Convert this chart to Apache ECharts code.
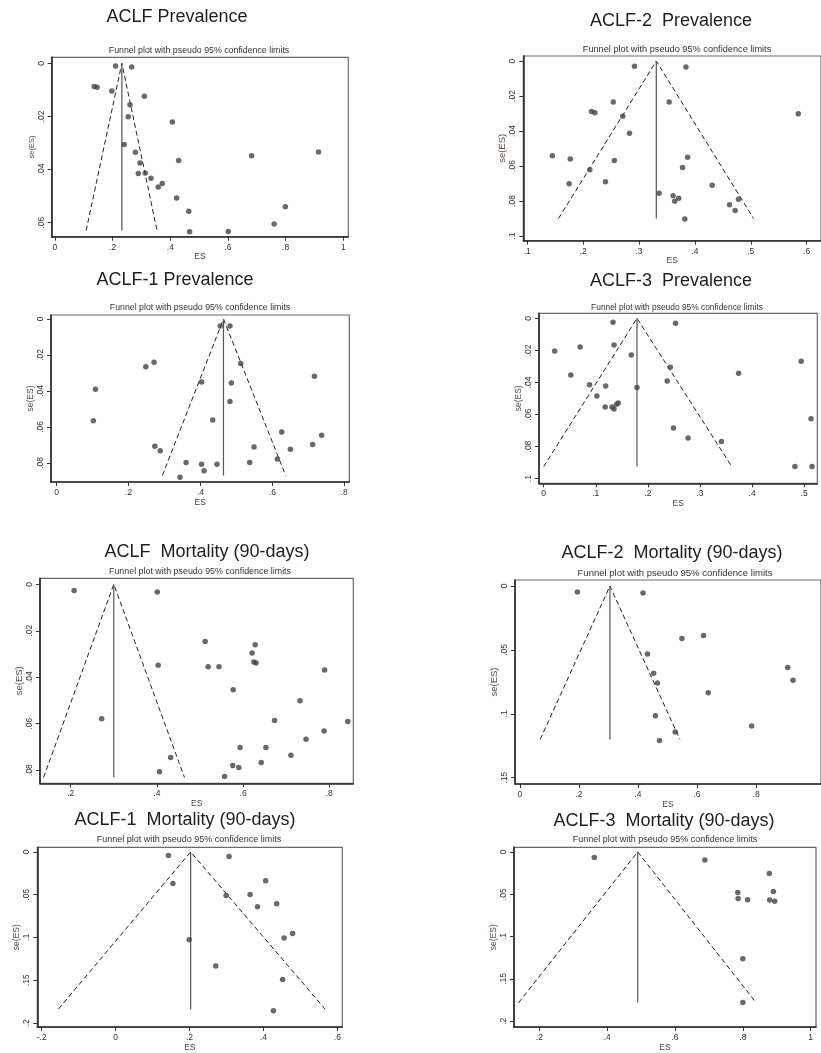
<!DOCTYPE html>
<html>
<head>
<meta charset="utf-8">
<script src="https://cdn.jsdelivr.net/npm/echarts@6/dist/echarts.min.js"></script>
<style>
html,body{margin:0;padding:0;background:#fff;}
#chart{width:821px;height:1053px;}
</style>
</head>
<body>
<div id="chart"></div>
<script>
// ---------- DATA (ES = effect size, SE = standard error) ----------
// Panel 1: ACLF Prevalence
const p1ES = [0.210,0.266,0.136,0.146,0.197,0.310,0.260,0.254,0.407,0.240,0.279,0.682,0.914,0.295,0.429,0.289,0.313,0.333,0.372,0.358,0.422,0.464,0.799,0.760,0.467,0.601];
const p1SE = [0.0010,0.0014,0.0087,0.0090,0.0104,0.0124,0.0156,0.0201,0.0221,0.0306,0.0335,0.0348,0.0334,0.0375,0.0366,0.0415,0.0413,0.0433,0.0453,0.0466,0.0507,0.0557,0.0540,0.0605,0.0634,0.0633];
const p1Funnel = [0.232, 0.063, 0.108, 0.354]; // pooled, max se, lower limit, upper limit
const p1XTicks = [0,0.2,0.4,0.6,0.8,1];
const p1YTicks = [0,0.02,0.04,0.06];

// Panel 2: ACLF-2 Prevalence
const p2ES = [0.292,0.384,0.254,0.354,0.215,0.221,0.271,0.585,0.283,0.145,0.177,0.256,0.387,0.378,0.212,0.175,0.240,0.431,0.336,0.361,0.364,0.371,0.478,0.462,0.472,0.382];
const p2SE = [0.0030,0.0034,0.0234,0.0234,0.0288,0.0295,0.0316,0.0301,0.0413,0.0541,0.0560,0.0568,0.0550,0.0608,0.0621,0.0701,0.0690,0.0710,0.0756,0.0770,0.0802,0.0785,0.0790,0.0821,0.0855,0.0903];
const p2Funnel = [0.331, 0.090, 0.156, 0.505];
const p2XTicks = [0.1,0.2,0.3,0.4,0.5,0.6];
const p2YTicks = [0,0.02,0.04,0.06,0.08,0.1];

// Panel 3: ACLF-1 Prevalence
const p3ES = [0.455,0.482,0.248,0.271,0.512,0.403,0.486,0.717,0.108,0.482,0.102,0.434,0.626,0.737,0.273,0.288,0.549,0.650,0.712,0.614,0.360,0.403,0.446,0.537,0.410,0.343];
const p3SE = [0.0039,0.0039,0.0265,0.0241,0.0248,0.0350,0.0356,0.0319,0.0391,0.0459,0.0565,0.0561,0.0628,0.0646,0.0707,0.0733,0.0711,0.0724,0.0698,0.0778,0.0798,0.0807,0.0807,0.0798,0.0843,0.0880];
const p3Funnel = [0.464, 0.087, 0.294, 0.637];
const p3XTicks = [0,0.2,0.4,0.6,0.8];
const p3YTicks = [0,0.02,0.04,0.06,0.08];

// Panel 4: ACLF-3 Prevalence
const p4ES = [0.133,0.253,0.021,0.070,0.135,0.168,0.243,0.052,0.088,0.119,0.237,0.179,0.102,0.118,0.131,0.135,0.140,0.143,0.374,0.494,0.513,0.482,0.515,0.249,0.277,0.341];
const p4SE = [0.0025,0.0031,0.0204,0.0179,0.0166,0.0229,0.0306,0.0353,0.0414,0.0422,0.0391,0.0432,0.0484,0.0553,0.0553,0.0565,0.0536,0.0528,0.0343,0.0268,0.0626,0.0925,0.0925,0.0684,0.0746,0.0769];
const p4Funnel = [0.179, 0.0925, 0.000, 0.361];
const p4XTicks = [0,0.1,0.2,0.3,0.4,0.5];
const p4YTicks = [0,0.02,0.04,0.06,0.08,0.1];

// Panel 5: ACLF Mortality (90-days)
const p5ES = [0.208,0.401,0.512,0.628,0.621,0.625,0.630,0.403,0.519,0.544,0.789,0.577,0.732,0.272,0.673,0.843,0.788,0.746,0.593,0.653,0.711,0.432,0.642,0.576,0.590,0.406,0.557];
const p5SE = [0.0027,0.0033,0.0246,0.0260,0.0296,0.0335,0.0339,0.0348,0.0355,0.0355,0.0369,0.0454,0.0501,0.0579,0.0586,0.0591,0.0632,0.0667,0.0703,0.0703,0.0736,0.0746,0.0767,0.0780,0.0789,0.0807,0.0828];
const p5Funnel = [0.300, 0.0832, 0.137, 0.464];
const p5XTicks = [0.2,0.4,0.6,0.8];
const p5YTicks = [0,0.02,0.04,0.06,0.08];

// Panel 6: ACLF-2 Mortality (90-days)
const p6ES = [0.195,0.417,0.549,0.622,0.432,0.453,0.466,0.907,0.925,0.638,0.459,0.785,0.526,0.473];
const p6SE = [0.0047,0.0055,0.0411,0.0388,0.0531,0.0682,0.0758,0.0638,0.0737,0.0836,0.1016,0.1096,0.1143,0.1208];
const p6Funnel = [0.305, 0.120, 0.069, 0.542];
const p6XTicks = [0,0.2,0.4,0.6,0.8];
const p6YTicks = [0,0.05,0.1,0.15];

// Panel 7: ACLF-1 Mortality (90-days)
const p7ES = [0.143,0.307,0.155,0.406,0.299,0.364,0.436,0.384,0.199,0.479,0.456,0.271,0.452,0.427];
const p7SE = [0.0042,0.0053,0.0369,0.0338,0.0510,0.0498,0.0608,0.0643,0.1027,0.0954,0.1008,0.1335,0.1494,0.1859];
const p7Funnel = [0.203, 0.184, -0.155, 0.567];
const p7XTicks = [-0.2,0,0.2,0.4,0.6];
const p7YTicks = [0,0.05,0.1,0.15,0.2];

// Panel 8: ACLF-3 Mortality (90-days)
const p8ES = [0.362,0.688,0.878,0.785,0.890,0.786,0.814,0.879,0.894,0.800,0.800];
const p8SE = [0.0065,0.0095,0.0256,0.0481,0.0469,0.0550,0.0565,0.0569,0.0584,0.1263,0.1779];
const p8Funnel = [0.490, 0.178, 0.139, 0.839];
const p8XTicks = [0.2,0.4,0.6,0.8,1];
const p8YTicks = [0,0.05,0.1,0.15,0.2];

const titles = ['ACLF Prevalence','ACLF-2  Prevalence','ACLF-1 Prevalence','ACLF-3  Prevalence',
  'ACLF  Mortality (90-days)','ACLF-2  Mortality (90-days)','ACLF-1  Mortality (90-days)','ACLF-3  Mortality (90-days)'];
const subtitle = 'Funnel plot with pseudo 95% confidence limits';

// ---------- LAYOUT (pixels) ----------
const layout = [
  {box:[51.7,57.3,348.3,236.7], xr:[-0.0114,1.0173], yr:[-0.00226,0.0653], t:[177,17], s:[199,51], sf:8.8, nf:7.5},
  {box:[523.3,56,830,240.7], xr:[0.093,0.6257], yr:[-0.0029,0.1027], t:[671,21], s:[677,49], sf:9.2, nf:9.5},
  {box:[51,315,349.3,482], xr:[-0.0158,0.814], yr:[-0.0022,0.0906], t:[175,280], s:[200,307.5], sf:8.8, nf:8.5},
  {box:[539,313.3,817.3,483.3], xr:[-0.009,0.525], yr:[-0.0031,0.1029], t:[671,281], s:[677,308], sf:8.4, nf:8.5},
  {box:[40,578.3,353.3,783.3], xr:[0.1288,0.8557], yr:[-0.0026,0.0857], t:[207,552], s:[200,572], sf:8.9, nf:9.5},
  {box:[515,580,830,784], xr:[-0.0164,1.0197], yr:[-0.0047,0.1549], t:[672,553], s:[675,573], sf:9.5, nf:9.5},
  {box:[37.3,847.3,342.3,1031.7], xr:[-0.212,0.6135], yr:[-0.0054,0.205], t:[185,820], s:[189,840], sf:9, nf:8.5},
  {box:[514,847.3,816,1032.7], xr:[0.1253,1.0157], yr:[-0.0054,0.2069], t:[664,821], s:[665,840], sf:9, nf:8.5}
];

const ES = [p1ES,p2ES,p3ES,p4ES,p5ES,p6ES,p7ES,p8ES];
const SE = [p1SE,p2SE,p3SE,p4SE,p5SE,p6SE,p7SE,p8SE];
const FUN = [p1Funnel,p2Funnel,p3Funnel,p4Funnel,p5Funnel,p6Funnel,p7Funnel,p8Funnel];
const XT = [p1XTicks,p2XTicks,p3XTicks,p4XTicks,p5XTicks,p6XTicks,p7XTicks,p8XTicks];
const YT = [p1YTicks,p2YTicks,p3YTicks,p4YTicks,p5YTicks,p6YTicks,p7YTicks,p8YTicks];

const FONT = '"Liberation Sans", Arial, sans-serif';
function stataFmt(v){
  if (Math.abs(v) < 1e-9) return '0';
  let s = String(+v.toFixed(4));
  return s.replace(/^(-?)0\./, '$1.');
}

const grids=[], xAxes=[], yAxes=[], series=[], graphics=[];
layout.forEach((L,i)=>{
  const [x1,y1,x2,y2] = L.box;
  grids.push({left:x1, top:y1, width:x2-x1, height:y2-y1, show:true, borderColor:'#6a6a6a', borderWidth:1.2, containLabel:false});
  xAxes.push({type:'value', gridIndex:i, min:L.xr[0], max:L.xr[1],
    axisLine:{show:true, onZero:false, lineStyle:{color:'#2a2a2a', width:1.6}},
    axisTick:{show:true, customValues:XT[i], length:4, lineStyle:{color:'#333', width:1}},
    axisLabel:{customValues:XT[i], formatter:stataFmt, fontSize:8.5, fontFamily:FONT, color:'#333', margin:6},
    splitLine:{show:false},
    name:'ES', nameLocation:'middle', nameGap:14, nameTextStyle:{fontSize:8.5, fontFamily:FONT, color:'#444'}
  });
  yAxes.push({type:'value', gridIndex:i, min:L.yr[0], max:L.yr[1], inverse:true,
    axisLine:{show:true, onZero:false, lineStyle:{color:'#2a2a2a', width:1.6}},
    axisTick:{show:true, customValues:YT[i], length:4, lineStyle:{color:'#333', width:1}},
    axisLabel:{customValues:YT[i], formatter:stataFmt, fontSize:8.5, fontFamily:FONT, color:'#333', margin:6, rotate:90},
    splitLine:{show:false},
    name:'se(ES)', nameLocation:'middle', nameRotate:90, nameGap:16, nameTextStyle:{fontSize:L.nf, fontFamily:FONT, color:'#5a4f48'}
  });
  const f = FUN[i];
  series.push({type:'line', xAxisIndex:i, yAxisIndex:i, data:[[f[2],f[1]],[f[0],0],[f[3],f[1]]],
    symbol:'none', silent:true, lineStyle:{color:'#222', width:1, type:[5,3]}, z:2});
  series.push({type:'line', xAxisIndex:i, yAxisIndex:i, data:[[f[0],0],[f[0],f[1]]],
    symbol:'none', silent:true, lineStyle:{color:'#555', width:1.2}, z:2});
  series.push({type:'scatter', xAxisIndex:i, yAxisIndex:i, data:ES[i].map((e,k)=>[e,SE[i][k]]),
    symbol:'circle', symbolSize:5.5, itemStyle:{color:'#444'}, z:3});
  graphics.push({type:'text', x:L.t[0], y:L.t[1], style:{text:titles[i], font:'18px '+FONT, fill:'#1e1e1e', textAlign:'center', textVerticalAlign:'middle'}});
  graphics.push({type:'text', x:L.s[0], y:L.s[1], style:{text:subtitle, font:L.sf+'px '+FONT, fill:'#333', textAlign:'center', textVerticalAlign:'middle'}});
});

const chart = echarts.init(document.getElementById('chart'), null, {renderer:'canvas'});
chart.setOption({
  animation:false,
  backgroundColor:'#ffffff',
  grid:grids, xAxis:xAxes, yAxis:yAxes, series:series, graphic:graphics
});
</script>
</body>
</html>
